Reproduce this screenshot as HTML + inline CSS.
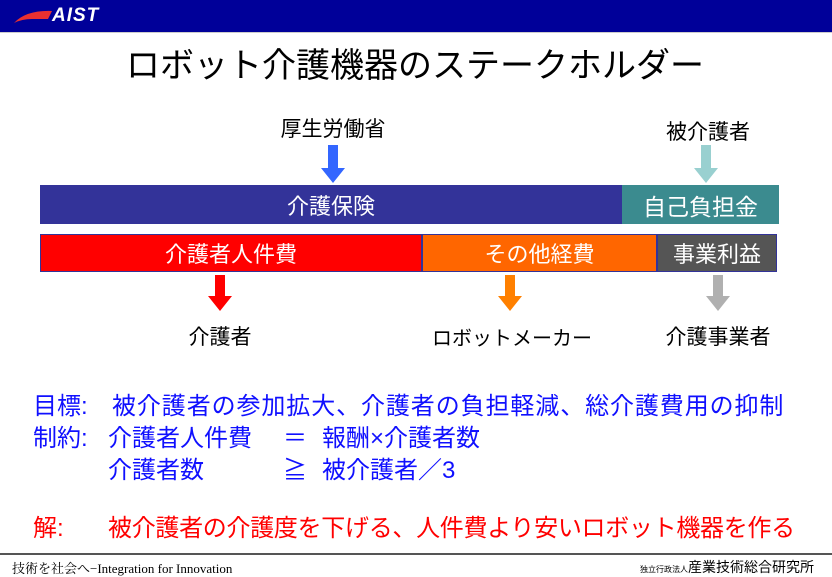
<!DOCTYPE html>
<html><head><meta charset="utf-8"><style>
body{margin:0;width:832px;height:576px;position:relative;background:#fff;overflow:hidden;font-family:"Liberation Sans","Noto Sans CJK JP",sans-serif}
.a{position:absolute;white-space:nowrap}
.bar{position:absolute;color:#fff;font-size:22px;display:flex;align-items:center;justify-content:center;box-sizing:border-box}
.c{position:absolute;transform:translateX(-50%);white-space:nowrap;font-size:22px;color:#000}
.b{color:#1010ff;font-size:24px}
</style></head><body>
<div class="a" style="left:0;top:0;width:832px;height:32px;background:#000099"></div>
<div class="a" style="left:0;top:32px;width:832px;height:1px;background:#ccc"></div>
<svg class="a" style="left:12px;top:7px" width="42" height="18"><path d="M2 16 Q14 3 40 4 L36 12 L20 12 Q10 12 2 16Z" fill="#e83030"/></svg>
<div class="a" style="left:52px;top:5px;color:#fff;font-weight:bold;font-style:italic;font-size:19px;letter-spacing:1px">AIST</div>
<div class="a" style="left:126px;top:38px;font-size:34px;color:#000">ロボット介護機器のステークホルダー</div>

<div class="c" style="left:333px;top:113px;font-size:21px">厚生労働省</div>
<div class="c" style="left:708px;top:116px;font-size:21px">被介護者</div>
<svg class="a" style="left:0;top:0" width="832" height="576">
<polygon points="328,145 338,145 338,168 345,168 333,183 321,168 328,168" fill="#3366ff"/>
<polygon points="701,145 711,145 711,168 718,168 706,183 694,168 701,168" fill="#99d0d0"/>
<polygon points="215,275 225,275 225,296 232,296 220,311 208,296 215,296" fill="#ff0000"/>
<polygon points="505,275 515,275 515,296 522,296 510,311 498,296 505,296" fill="#ff8000"/>
<polygon points="713,275 723,275 723,296 730,296 718,311 706,296 713,296" fill="#b0b0b0"/>
</svg>
<div class="bar" style="left:40px;top:185px;width:582px;height:39px;background:#333399">介護保険</div>
<div class="bar" style="left:622px;top:185px;width:157px;height:39px;background:#3b8b8f;font-size:23px">自己負担金</div>
<div class="bar" style="left:40px;top:234px;width:382px;height:38px;background:#ff0000;border:1px solid #333399">介護者人件費</div>
<div class="bar" style="left:422px;top:234px;width:235px;height:38px;background:#ff6600;border:1px solid #333399">その他経費</div>
<div class="bar" style="left:657px;top:234px;width:120px;height:38px;background:#555;border:1px solid #333399">事業利益</div>
<div class="c" style="left:220px;top:321px;font-size:21px">介護者</div>
<div class="c" style="left:512px;top:322px;font-size:20px">ロボットメーカー</div>
<div class="c" style="left:718px;top:321px;font-size:21px">介護事業者</div>

<div class="a b" style="left:33px;top:386px">目標:</div>
<div class="a b" style="left:112px;top:386px;letter-spacing:0.9px">被介護者の参加拡大、介護者の負担軽減、総介護費用の抑制</div>
<div class="a b" style="left:33px;top:418px">制約:</div>
<div class="a b" style="left:108px;top:418px">介護者人件費</div>
<div class="a b" style="left:283px;top:418px">＝</div>
<div class="a b" style="left:322px;top:418px">報酬×介護者数</div>
<div class="a b" style="left:108px;top:450px">介護者数</div>
<div class="a b" style="left:283px;top:450px">≧</div>
<div class="a b" style="left:322px;top:450px">被介護者／3</div>
<div class="a" style="left:33px;top:508px;color:#ff0000;font-size:24px">解:</div>
<div class="a" style="left:108px;top:508px;color:#ff0000;font-size:24px;letter-spacing:-0.3px">被介護者の介護度を下げる、人件費より安いロボット機器を作る</div>

<div class="a" style="left:0;top:553px;width:832px;height:2px;background:#555"></div>
<div class="a" style="left:12px;top:558px;font-size:13px;font-family:'Liberation Serif','Noto Serif CJK SC',serif">技術を社会へ−Integration for Innovation</div>
<div class="a" style="left:640px;top:557px;font-size:14px"><span style="font-size:8px">独立行政法人</span>産業技術総合研究所</div>
</body></html>
